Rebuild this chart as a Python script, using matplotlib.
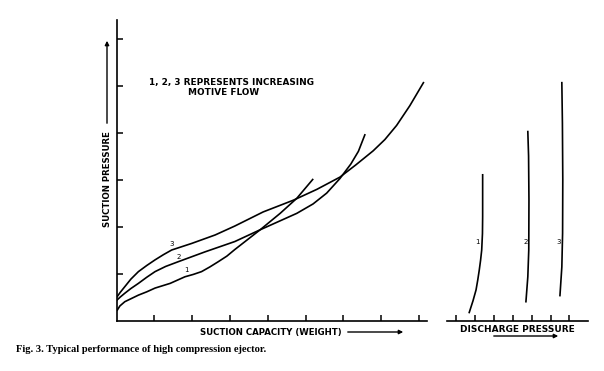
import numpy as np
import matplotlib
matplotlib.use('Agg')
from matplotlib import pyplot as plt
from matplotlib.patches import FancyArrowPatch

W, H = 604, 371

# suction pressure vs suction capacity (in tick units)
cap_1 = [0.02, 0.09, 0.22, 0.40, 0.58, 0.80, 1.02, 1.42, 1.81, 2.03, 2.25,
         2.47, 2.69, 2.92, 3.13, 3.80, 4.33, 4.77, 5.19]
pres_1 = [0.22, 0.31, 0.40, 0.47, 0.54, 0.61, 0.69, 0.79, 0.93, 0.98, 1.04,
          1.14, 1.25, 1.37, 1.51, 1.93, 2.28, 2.60, 3.00]
cap_2 = [0.02, 0.10, 0.22, 0.38, 0.58, 0.80, 1.02, 1.30, 1.63, 2.34, 3.13,
         3.80, 4.77, 5.20, 5.56, 5.91, 6.20, 6.40, 6.57]
pres_2 = [0.44, 0.50, 0.58, 0.68, 0.79, 0.92, 1.04, 1.15, 1.25, 1.46, 1.68,
          1.93, 2.28, 2.48, 2.71, 3.02, 3.33, 3.60, 3.95]
cap_3 = [0.02, 0.10, 0.22, 0.38, 0.58, 0.80, 1.02, 1.24, 1.46, 1.99, 2.61,
         3.13, 3.88, 4.68, 5.30, 5.91, 6.33, 6.79, 7.10, 7.41, 7.76, 8.12]
pres_3 = [0.51, 0.60, 0.72, 0.88, 1.04, 1.17, 1.29, 1.40, 1.50, 1.64, 1.82,
          2.01, 2.31, 2.56, 2.79, 3.05, 3.31, 3.61, 3.85, 4.15, 4.57, 5.06]

# suction pressure vs discharge pressure
dis_1 = [2.41, 2.41, 2.40, 2.36, 2.30, 2.23, 2.15, 2.06, 1.90, 1.70]
dpres_1 = [3.10, 2.21, 1.85, 1.50, 1.28, 1.07, 0.86, 0.65, 0.42, 0.17]
dis_2 = [4.80, 4.84, 4.86, 4.85, 4.80, 4.70]
dpres_2 = [4.02, 3.50, 2.56, 1.50, 0.93, 0.40]
dis_3 = [6.60, 6.63, 6.65, 6.64, 6.60, 6.50]
dpres_3 = [5.06, 4.20, 3.00, 1.86, 1.14, 0.53]

labels = ['1', '2', '3']
label_pos = [(1.84, 1.01), (1.65, 1.29), (1.46, 1.57)]
dlabel_pos = [(2.15, 1.68), (4.68, 1.68), (6.45, 1.68)]


def fig_xy(x, y):
    return x / W, 1 - y / H


def style_axes(ax, left_spine=True):
    for side in ['top', 'right']:
        ax.spines[side].set_visible(False)
    ax.spines['left'].set_visible(left_spine)
    for sp in ax.spines.values():
        sp.set_linewidth(1.2)
    ax.tick_params(direction='in', length=4, width=1.1,
                   labelleft=False, labelbottom=False)
    ax.set_facecolor('none')


def add_arrow(fig, start, end):
    fig.add_artist(FancyArrowPatch(
        fig_xy(*start), fig_xy(*end), transform=fig.transFigure,
        arrowstyle='-|>', mutation_scale=6, lw=1.0, color='black'))


fig = plt.figure(figsize=(W / 100, H / 100), dpi=100)

x0, y0 = fig_xy(116.5, 320.5)
x1, y1 = fig_xy(427, 20)
ax = fig.add_axes([x0, y0, x1 - x0, y1 - y0])
ax.set_xlim(0, (427 - 116.5) / 37.8)
ax.set_ylim(0, (320.5 - 20) / 47)
ax.set_xticks(np.arange(1, 9))
ax.set_yticks(np.arange(1, 7))
style_axes(ax)

lw = 1.2
ax.plot(cap_1, pres_1, color='black', lw=lw)
ax.plot(cap_2, pres_2, color='black', lw=lw)
ax.plot(cap_3, pres_3, color='black', lw=lw)
for lab, (lx, ly) in zip(labels, label_pos):
    ax.text(lx, ly, lab, fontsize=5, ha='center', va='bottom')

ax.text(3.03, 5.06, '1, 2, 3 REPRESENTS INCREASING', fontsize=6.4,
        fontweight='bold', va='center', ha='center')
ax.text(2.82, 4.85, 'MOTIVE FLOW', fontsize=6.4, fontweight='bold',
        va='center', ha='center')

# right panel
rx0, ry0 = fig_xy(446.7, 320.5)
rx1, ry1 = fig_xy(588, 20)
ax2 = fig.add_axes([rx0, ry0, rx1 - rx0, ry1 - ry0])
ax2.set_xlim((446.7 - 437.1) / 18.9, (588 - 437.1) / 18.9)
ax2.set_ylim(0, (320.5 - 20) / 47)
ax2.set_xticks(np.arange(1, 8))
ax2.set_yticks([])
style_axes(ax2, left_spine=False)

ax2.plot(dis_1, dpres_1, color='black', lw=lw)
ax2.plot(dis_2, dpres_2, color='black', lw=lw)
ax2.plot(dis_3, dpres_3, color='black', lw=lw)
for lab, (lx, ly) in zip(labels, dlabel_pos):
    ax2.text(lx, ly, lab, fontsize=5, ha='center', va='center')

# axis titles with arrows
tx, ty = fig_xy(200, 332)
fig.text(tx, ty, 'SUCTION CAPACITY (WEIGHT)', fontsize=6.25, fontweight='bold',
         ha='left', va='center')
add_arrow(fig, (345, 332), (406, 332))

tx, ty = fig_xy(107, 227)
fig.text(tx, ty, 'SUCTION PRESSURE', fontsize=6.25, fontweight='bold',
         rotation=90, ha='center', va='bottom')
add_arrow(fig, (107, 126), (107, 38))

tx, ty = fig_xy(517, 330)
fig.text(tx, ty, 'DISCHARGE PRESSURE', fontsize=6.5, fontweight='bold',
         ha='center', va='center')
add_arrow(fig, (491, 336), (561, 336))

tx, ty = fig_xy(16, 350)
fig.text(tx, ty, 'Fig. 3. Typical performance of high compression ejector.',
         fontsize=7.6, fontweight='bold', family='Liberation Serif',
         ha='left', va='center')

fig.savefig('out.png', dpi=100, facecolor='white')
